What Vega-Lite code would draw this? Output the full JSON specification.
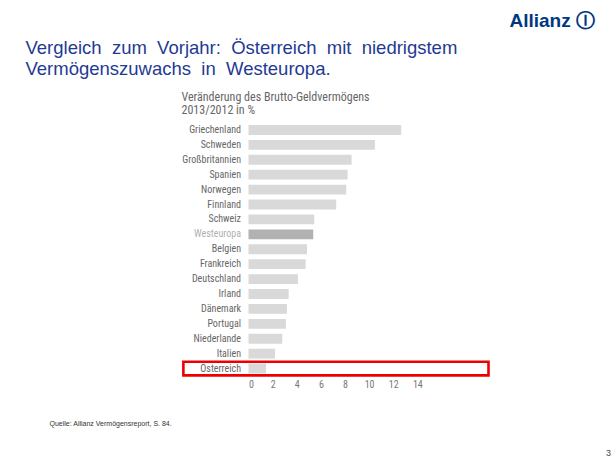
{
  "$schema": "https://vega.github.io/schema/vega-lite/v6.json",
  "autosize": {"type": "none"},
  "padding": {"left": 248.5, "top": 122.5, "right": 127.5, "bottom": 87},
  "width": 240,
  "height": 253.5,
  "background": "white",
  "config": {"view": {"stroke": null}},
  "title": {
    "text": "3",
    "orient": "bottom",
    "anchor": "end",
    "align": "left",
    "frame": "group",
    "dx": 117.5,
    "baseline": "top",
    "offset": 22.5,
    "font": "Liberation Sans, Arial, sans-serif",
    "fontSize": 9,
    "fontWeight": "normal",
    "color": "#444444"
  },
  "layer": [
    {
      "data": {"values": [
        {"land": "Griechenland", "wert": 12.66, "typ": "Land"},
        {"land": "Schweden", "wert": 10.48, "typ": "Land"},
        {"land": "Großbritannien", "wert": 8.55, "typ": "Land"},
        {"land": "Spanien", "wert": 8.22, "typ": "Land"},
        {"land": "Norwegen", "wert": 8.1, "typ": "Land"},
        {"land": "Finnland", "wert": 7.27, "typ": "Land"},
        {"land": "Schweiz", "wert": 5.45, "typ": "Land"},
        {"land": "Westeuropa", "wert": 5.37, "typ": "Westeuropa"},
        {"land": "Belgien", "wert": 4.85, "typ": "Land"},
        {"land": "Frankreich", "wert": 4.74, "typ": "Land"},
        {"land": "Deutschland", "wert": 4.1, "typ": "Land"},
        {"land": "Irland", "wert": 3.33, "typ": "Land"},
        {"land": "Dänemark", "wert": 3.19, "typ": "Land"},
        {"land": "Portugal", "wert": 3.1, "typ": "Land"},
        {"land": "Niederlande", "wert": 2.8, "typ": "Land"},
        {"land": "Italien", "wert": 2.2, "typ": "Land"},
        {"land": "Österreich", "wert": 1.45, "typ": "Land"}
      ]},
      "mark": {"type": "bar"},
      "encoding": {
        "y": {
          "field": "land", "type": "nominal", "sort": null,
          "scale": {
            "domain": ["Griechenland", "Schweden", "Großbritannien", "Spanien", "Norwegen", "Finnland", "Schweiz", "Westeuropa", "Belgien", "Frankreich", "Deutschland", "Irland", "Dänemark", "Portugal", "Niederlande", "Italien", "Österreich"],
            "paddingInner": 0.34, "paddingOuter": 0.17
          },
          "axis": {
            "orient": "left", "ticks": false, "domain": false, "grid": false,
            "labelPadding": 8, "labelFontSize": 10,
            "labelFont": "Roboto Condensed, Liberation Sans Narrow, DejaVu Sans Condensed, sans-serif",
            "labelColor": {"condition": {"test": "datum.value === 'Westeuropa'", "value": "#b0b0b0"}, "value": "#666666"},
            "title": ["Veränderung des Brutto-Geldvermögens", "2013/2012 in %"],
            "titleAngle": 0, "titleAlign": "left", "titleBaseline": "alphabetic",
            "titleX": -67.5, "titleY": -22.5, "titleLineHeight": 13,
            "titleFont": "Roboto Condensed, Liberation Sans Narrow, DejaVu Sans Condensed, sans-serif",
            "titleFontSize": 12, "titleFontWeight": "normal", "titleColor": "#666666"
          }
        },
        "x": {
          "field": "wert", "type": "quantitative",
          "scale": {"domain": [0, 19.9], "nice": false, "zero": true},
          "axis": {
            "orient": "bottom", "values": [0, 2, 4, 6, 8, 10, 12, 14],
            "ticks": false, "domain": false, "grid": false,
            "labelPadding": 3, "labelFontSize": 10,
            "labelFont": "Roboto Condensed, Liberation Sans Narrow, DejaVu Sans Condensed, sans-serif",
            "labelColor": "#777777",
            "title": "Quelle: Allianz Vermögensreport, S. 84.",
            "titleX": -199.5, "titleY": 49, "titleAlign": "left", "titleBaseline": "alphabetic",
            "titleFont": "Liberation Sans, Arial, sans-serif", "titleFontSize": 7,
            "titleFontWeight": "normal", "titleColor": "#333333"
          }
        },
        "color": {
          "field": "typ", "type": "nominal",
          "scale": {"domain": ["Land", "Westeuropa"], "range": ["#d9d9d9", "#b2b2b2"]},
          "legend": null
        }
      }
    },
    {
      "data": {"values": [
        {"land": "Österreich", "von": -5.4, "bis": 19.9}
      ]},
      "mark": {"type": "bar", "filled": false, "stroke": "#ee0000", "strokeWidth": 2.6, "height": {"band": 1.38}},
      "encoding": {
        "y": {
          "field": "land", "type": "nominal", "sort": null,
          "axis": {
            "orient": "right", "labels": false, "ticks": false, "domain": false, "grid": false,
            "title": "Allianz Ⓘ", "titleAngle": 0, "titleAlign": "left", "titleBaseline": "alphabetic",
            "titleX": 20.5, "titleY": -96.5,
            "titleFont": "Liberation Sans, Arial, sans-serif", "titleFontSize": 19,
            "titleFontWeight": "bold", "titleColor": "#003781"
          }
        },
        "x": {
          "field": "von", "type": "quantitative",
          "axis": {
            "orient": "top", "labels": false, "ticks": false, "domain": false, "grid": false,
            "title": ["Vergleich\u00a0 zum\u00a0 Vorjahr:\u00a0 Österreich\u00a0 mit\u00a0 niedrigstem", "Vermögenszuwachs\u00a0 in\u00a0 Westeuropa."],
            "titleAlign": "left", "titleBaseline": "alphabetic",
            "titleX": -223.5, "titleY": -69.5, "titleLineHeight": 21,
            "titleFont": "Liberation Sans, Arial, sans-serif", "titleFontSize": 18.5,
            "titleFontWeight": "normal", "titleColor": "#1f3a93"
          }
        },
        "x2": {"field": "bis"}
      }
    }
  ],
  "resolve": {"axis": {"x": "independent", "y": "independent"}}
}
